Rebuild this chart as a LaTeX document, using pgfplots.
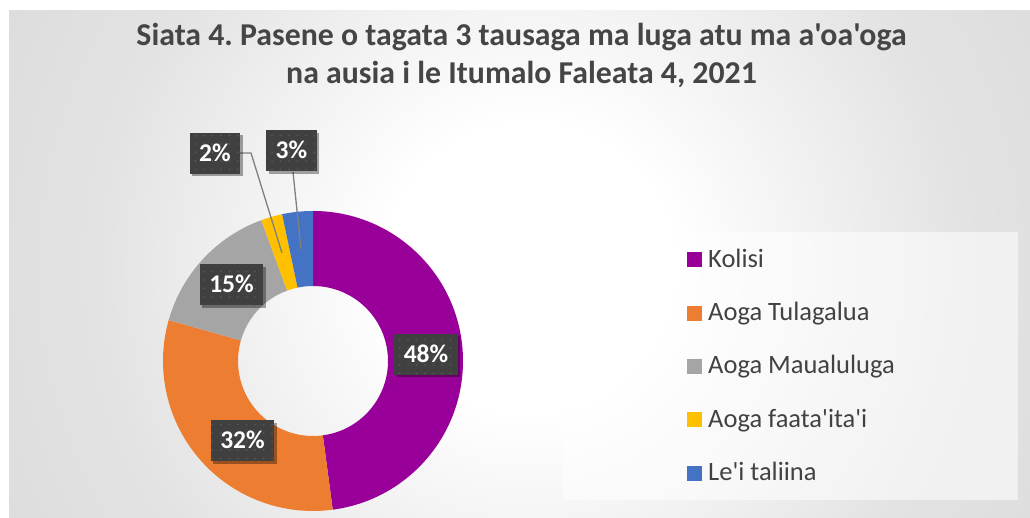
\documentclass[border=0pt]{standalone}
\usepackage{fontspec}
\setmainfont{Carlito}[Ligatures=TeXOff]
\usepackage{pgfplots}
\usepackage{pgfplotstable}
\pgfplotsset{compat=1.18}
\usetikzlibrary{shadows,patterns.meta}
\frenchspacing

\definecolor{ckolisi}{HTML}{990099}
\definecolor{ctula}{HTML}{ED7D31}
\definecolor{cmaua}{HTML}{A5A5A5}
\definecolor{cfaata}{HTML}{FFC000}
\definecolor{ctali}{HTML}{4472C4}
\definecolor{titlegray}{HTML}{454545}
\definecolor{textgray}{HTML}{424242}
\definecolor{labelbg}{HTML}{404040}
\definecolor{labeldot}{HTML}{5A5A5A}
\definecolor{leader}{HTML}{7F7F7F}
\definecolor{bgmid}{HTML}{E3E3E3}
\definecolor{bgedge}{HTML}{C4C4C4}

\pgfdeclareradialshading{bgsh}{\pgfpointorigin}{color(0bp)=(white); color(6bp)=(white); color(18bp)=(bgmid); color(50bp)=(bgedge)}

% share of each group (per cent), clockwise from the top
\pgfplotstableread[col sep=comma]{
name,value,color
Kolisi,47.9,ckolisi
Aoga Tulagalua,31.5,ctula
Aoga Maualuluga,15.0,cmaua
Aoga faata'ita'i,2.3,cfaata
Le'i taliina,3.3,ctali
}\slices

\tikzset{
  plabel/.style={fill=labelbg, text=white, font=\fontsize{25.5bp}{28bp}\selectfont\bfseries,
    minimum height=41bp, inner xsep=9.5bp, inner ysep=0pt, text height=16bp, text depth=0bp,
    drop shadow={shadow xshift=2.5bp, shadow yshift=-2.5bp, opacity=0.35, fill=black},
    postaction={pattern={Dots[distance=8.5bp, radius=0.9bp]}, pattern color=labeldot}}
}

\begin{document}
\begin{tikzpicture}
\fill[white] (0,0) rectangle (1030bp,518bp);
\begin{scope}
  \clip (9bp,0bp) rectangle (1030bp,507bp);
  \shade[shading=bgsh] (530bp,250bp) circle (600bp);
\end{scope}
\begin{axis}[
  at={(0,0)}, anchor=south west,
  width=1030bp, height=518bp, scale only axis,
  xmin=0, xmax=1030, ymin=0, ymax=518,
  hide axis, clip=false,
  legend image code/.code={\fill[#1] (0bp,-7.5bp) rectangle (15bp,7.5bp);},
  legend cell align=left,
  legend style={at={(0.666990,0.513514)}, anchor=north west, draw=none, fill=none,
    inner sep=0pt, row sep=38.4bp, column sep=6bp,
    font=\fontsize{26.5bp}{30bp}\selectfont, text=textgray,
    nodes={text height=15bp, text depth=0bp, inner sep=0pt}},
]
% legend background box
\pgfplotsextra{\fill[white, opacity=0.55] (axis cs:563,18) rectangle (axis cs:1018,286);}

% donut slices from the table
\pgfplotsextra{%
  \gdef\cum{0}%
  \foreach \i in {0,...,4}{%
    \pgfplotstablegetelem{\i}{value}\of\slices \let\v\pgfplotsretval
    \pgfplotstablegetelem{\i}{color}\of\slices \let\c\pgfplotsretval
    \pgfmathsetmacro\aA{90-3.6*\cum}%
    \pgfmathsetmacro\aB{90-3.6*(\cum+\v)}%
    \fill[fill=\c] (axis cs:{313+150*cos(\aA)},{157+150*sin(\aA)})
       arc[start angle=\aA, end angle=\aB, radius=150bp]
       -- (axis cs:{313+75*cos(\aB)},{157+75*sin(\aB)})
       arc[start angle=\aB, end angle=\aA, radius=75bp] -- cycle;
    \pgfmathsetmacro\newcum{\cum+\v}%
    \xdef\cum{\newcum}%
  }%
}

% leader lines
\pgfplotsextra{%
  \draw[leader, line width=1.3bp] (axis cs:240,365) -- (axis cs:251,365) -- (axis cs:282,265);
  \draw[leader, line width=1.3bp] (axis cs:293,346) -- (axis cs:301,269);
}

% data labels
\pgfplotsextra{%
  \node[plabel] at (axis cs:426,163.5) {48\%};
  \node[plabel] at (axis cs:242.5,77) {32\%};
  \node[plabel] at (axis cs:231.5,233) {15\%};
  \node[plabel] at (axis cs:215,364.5) {2\%};
  \node[plabel] at (axis cs:291.5,367) {3\%};
}

% title
\pgfplotsextra{%
  \node[anchor=base, text=titlegray, font=\fontsize{31.8bp}{38bp}\selectfont\bfseries] at (axis cs:521.5,472) {Siata 4. Pasene o tagata 3 tausaga ma luga atu ma a'oa'oga};
  \node[anchor=base, text=titlegray, font=\fontsize{31.8bp}{38bp}\selectfont\bfseries] at (axis cs:521.5,434) {na ausia i le Itumalo Faleata 4, 2021};
}

\addlegendimage{fill=ckolisi, draw=none}
\addlegendentry{Kolisi}
\addlegendimage{fill=ctula, draw=none}
\addlegendentry{Aoga Tulagalua}
\addlegendimage{fill=cmaua, draw=none}
\addlegendentry{Aoga Maualuluga}
\addlegendimage{fill=cfaata, draw=none}
\addlegendentry{Aoga faata'ita'i}
\addlegendimage{fill=ctali, draw=none}
\addlegendentry{Le'i taliina}
\end{axis}
\pgfresetboundingbox
\path (0,0) rectangle (1030bp,518bp);
\end{tikzpicture}
\end{document}
